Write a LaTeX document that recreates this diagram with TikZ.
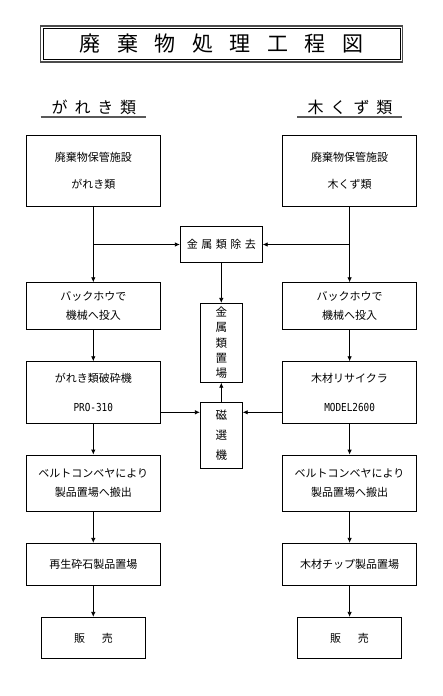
\documentclass[tikz,border=0pt]{standalone}
\usepackage{fontspec}
\setmainfont{Noto Sans CJK JP}
\newfontfamily\monof[FakeStretch=0.85]{DejaVu Sans Mono}
\usetikzlibrary{arrows.meta}
\tikzset{
  box/.style={draw, line width=0.8pt, inner sep=0pt, align=center,
    font=\fontsize{11}{13}\selectfont},
  sidebox/.style={box, minimum width=134.5pt},
  endbox/.style={box, minimum width=104.4pt, minimum height=41.4pt},
  colbox/.style={box, minimum width=42pt},
  conn/.style={line width=0.8pt, -{Latex[length=5pt,width=4.5pt]}},
  headtext/.style={inner sep=0pt, font=\fontsize{16}{18}\selectfont},
  uline/.style={line width=1.8pt, draw=black!65},
  codetext/.style={},
}
\begin{document}
\begin{tikzpicture}[x=1pt,y=-1pt]
\useasboundingbox (0,0) rectangle (443,696);
% title
\draw[line width=1.3pt, draw=black!70] (40.7,25.9) rectangle (402.3,61.9);
\draw[line width=0.6pt] (42.9,28.1) rectangle (400.1,59.7);
\node[inner sep=0pt, font=\fontsize{21}{24}\selectfont] (title) at (221.3,44)
  {廃\hspace{16.5pt}棄\hspace{16.5pt}物\hspace{16.5pt}処\hspace{16.5pt}理\hspace{16.5pt}工\hspace{16.5pt}程\hspace{16.5pt}図};
% headers
\node[headtext] (hl) at (93.9,107.5) {が\hspace{6.8pt}れ\hspace{6.8pt}き\hspace{6.8pt}類};
\node[headtext] (hr) at (350,107.5) {木\hspace{7pt}く\hspace{7pt}ず\hspace{7pt}類};
\draw[uline] (40.7,117.3) -- (145.7,117.3);
\draw[uline] (297,117.3) -- (402,117.3);
% left column
\node[sidebox, minimum height=71pt] (L1) at (93.3,170.5) {廃棄物保管施設\\[14pt]がれき類};
\node[sidebox, minimum height=46.6pt] (L2) at (93.3,306) {バックホウで\\[5.7pt]機械へ投入};
\node[sidebox, minimum height=61.6pt] (L3) at (93.3,392.5) {がれき類破砕機\\[16pt]{\monof\fontsize{11}{12}\selectfont PRO-310}};
\node[sidebox, minimum height=56pt] (L4) at (93.3,483) {ベルトコンベヤにより\\[6.7pt]製品置場へ搬出};
\node[sidebox, minimum height=42pt] (L5) at (93.3,564.3) {再生砕石製品置場};
\node[endbox] (L6) at (93.5,638) {販\hspace{17pt}売};
% right column
\node[sidebox, minimum height=71pt] (R1) at (349.6,170.5) {廃棄物保管施設\\[14pt]木くず類};
\node[sidebox, minimum height=46.6pt] (R2) at (349.6,306) {バックホウで\\[5.7pt]機械へ投入};
\node[sidebox, minimum height=61.6pt] (R3) at (349.6,392.5) {木材リサイクラ\\[16pt]{\monof\fontsize{11}{12}\selectfont MODEL2600}};
\node[sidebox, minimum height=56pt] (R4) at (349.6,483) {ベルトコンベヤにより\\[6.7pt]製品置場へ搬出};
\node[sidebox, minimum height=42pt] (R5) at (349.6,564.3) {木材チップ製品置場};
\node[endbox] (R6) at (349.5,638) {販\hspace{17pt}売};
% center
\node[box, minimum width=82pt, minimum height=35.6pt] (M) at (221.3,244.5)
  {金\hspace{3.5pt}属\hspace{3.5pt}類\hspace{3.5pt}除\hspace{3.5pt}去};
\node[colbox, minimum height=79pt, font=\fontsize{11.5}{15.3}\selectfont] (P) at (221.3,342.8)
  {金\\属\\類\\置\\場};
\node[colbox, minimum height=66pt, font=\fontsize{11.5}{20}\selectfont] (J) at (221.3,435.3)
  {磁\\選\\機};
\coordinate (jy) at (0,412.3);
% connectors
\draw[conn] (L1) -- (L2);
\draw[conn] (L2) -- (L3);
\draw[conn] (L3) -- (L4);
\draw[conn] (L4) -- (L5);
\draw[conn] (L5.south) -- (L5.south |- L6.north);
\draw[conn] (R1) -- (R2);
\draw[conn] (R2) -- (R3);
\draw[conn] (R3) -- (R4);
\draw[conn] (R4) -- (R5);
\draw[conn] (R5.south) -- (R5.south |- R6.north);
\draw[conn] (L1.south |- M.west) -- (M.west);
\draw[conn] (R1.south |- M.east) -- (M.east);
\draw[conn] (M) -- (P);
\draw[conn] (J) -- (P);
\draw[conn] (L3.east |- jy) -- (J.west |- jy);
\draw[conn] (R3.west |- jy) -- (J.east |- jy);
\end{tikzpicture}
\end{document}
